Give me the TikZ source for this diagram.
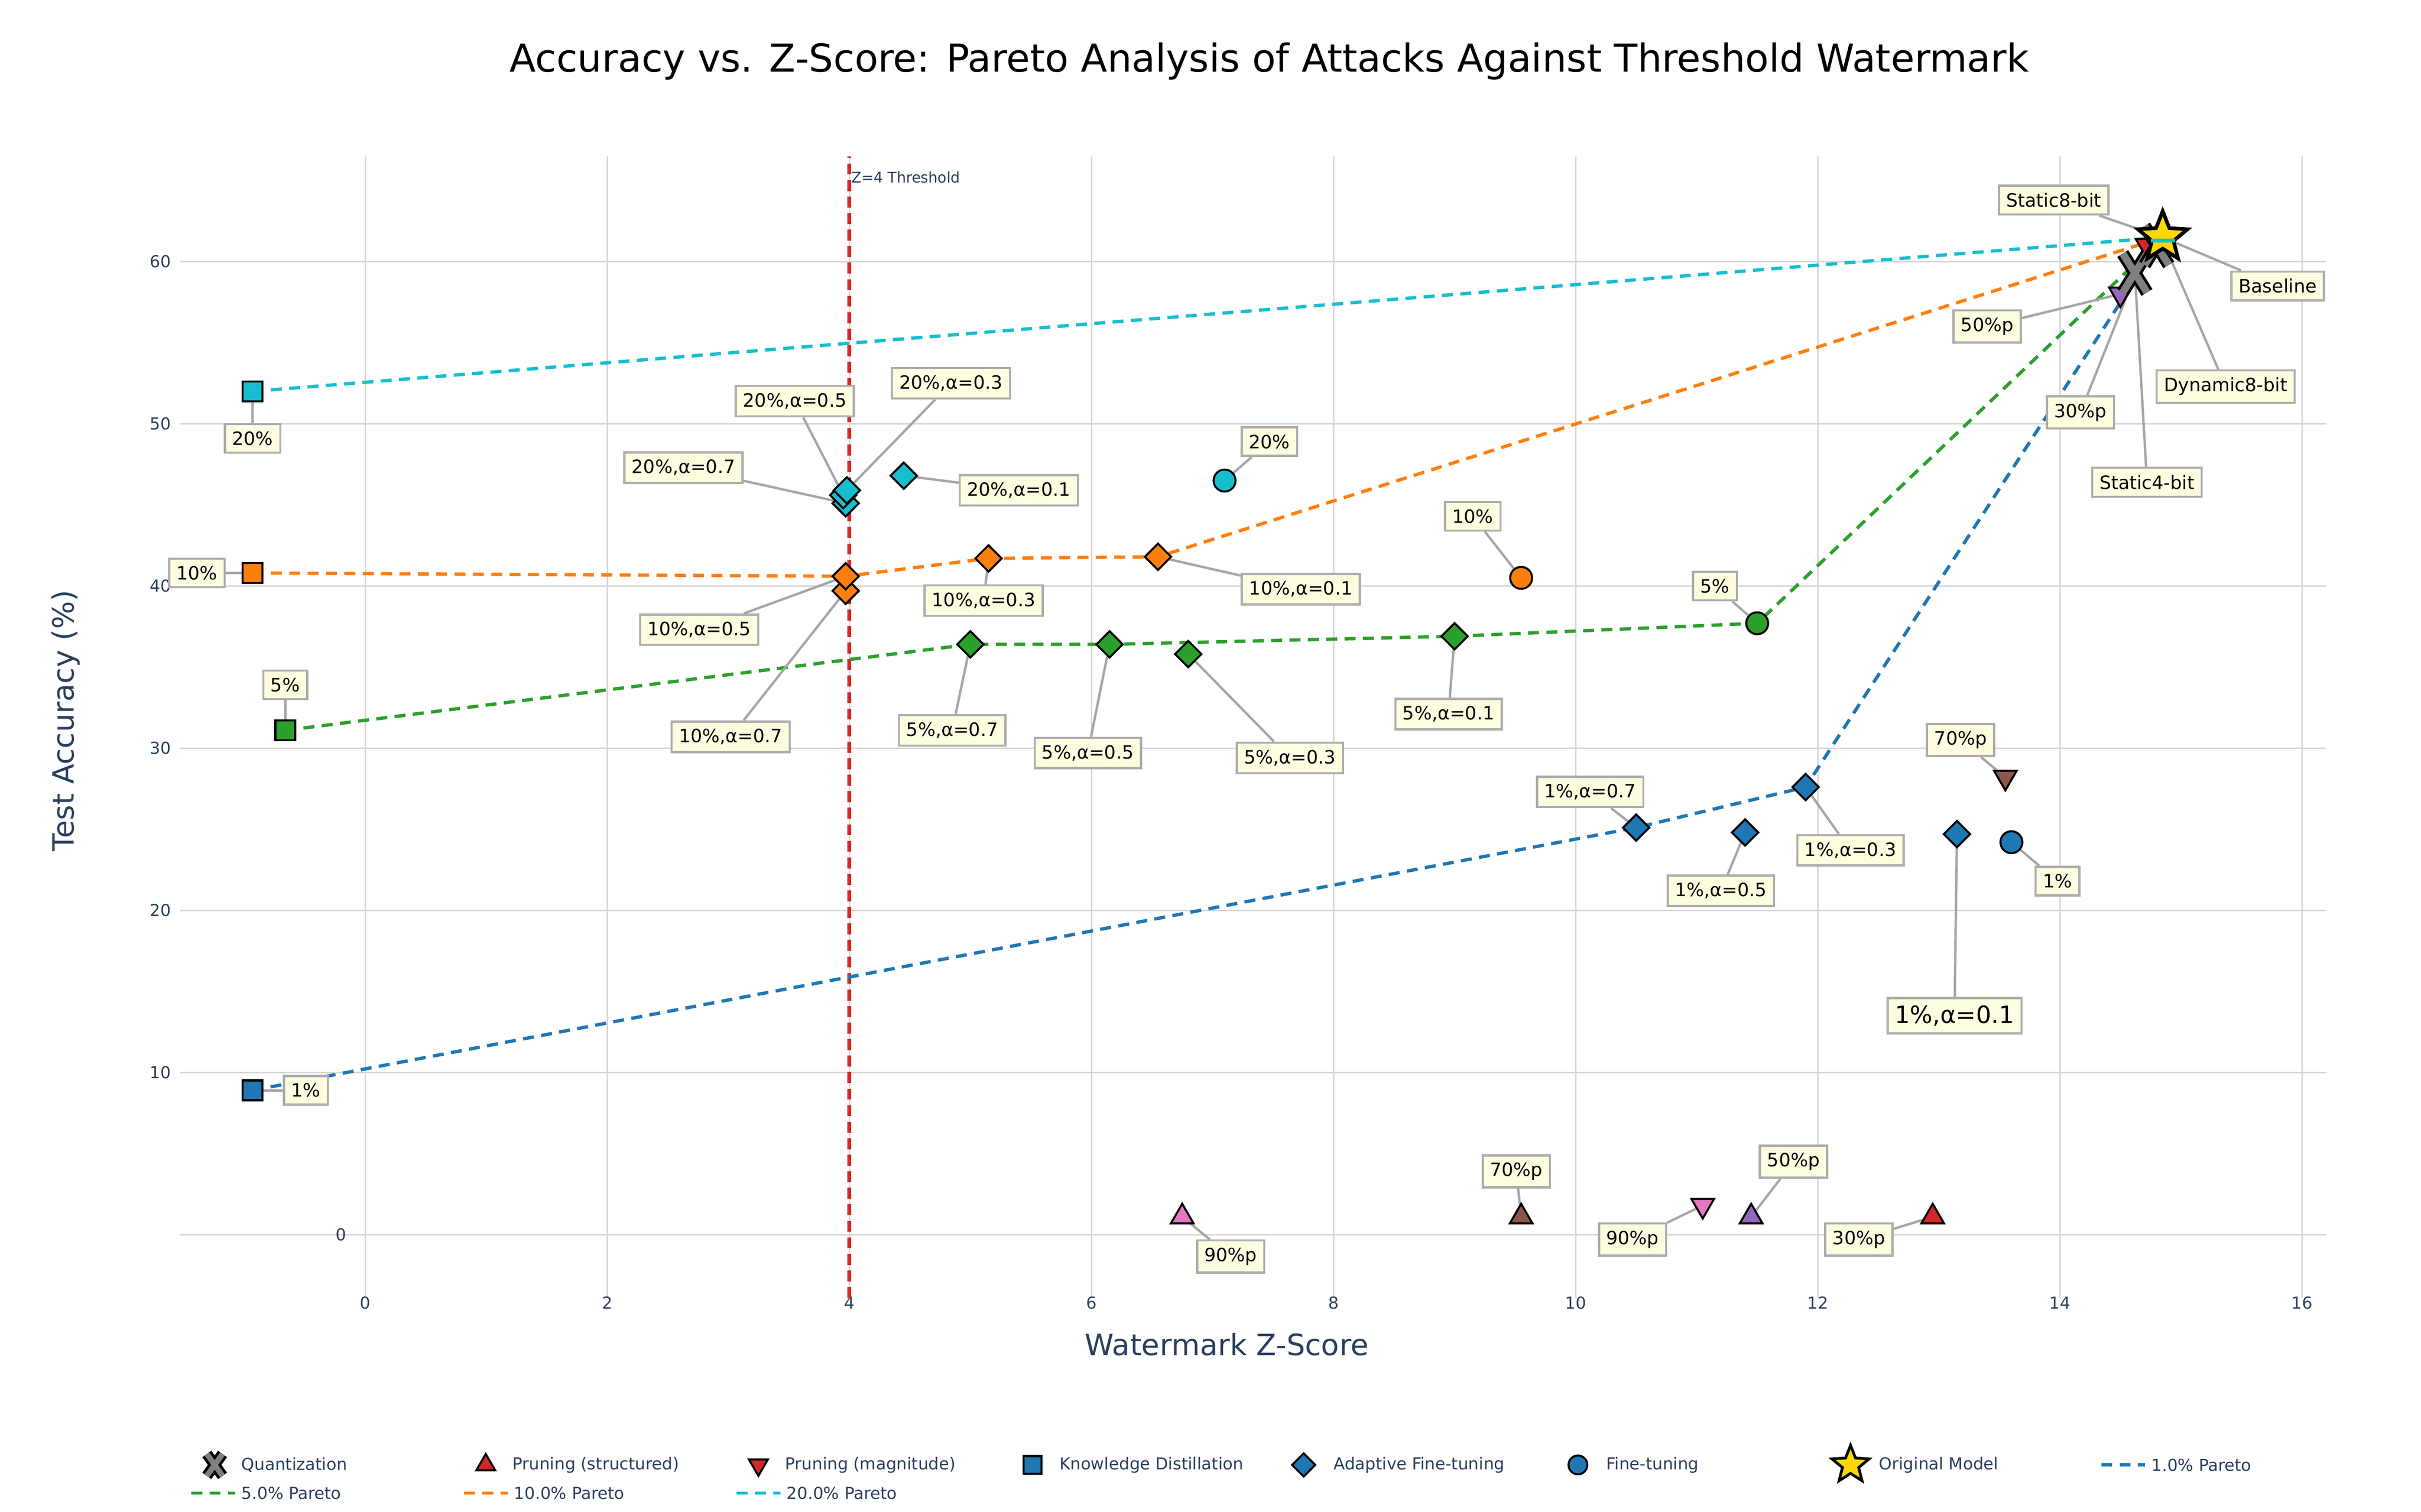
\documentclass[tikz,border=0pt]{standalone}
\usepackage{fontspec}
\setmainfont{DejaVu Sans}
\usetikzlibrary{positioning}
\usetikzlibrary{shapes.geometric}
\usetikzlibrary{arrows.meta}
\definecolor{cone}{HTML}{1F77B4}
\definecolor{cfive}{HTML}{2CA02C}
\definecolor{cten}{HTML}{FF7F0E}
\definecolor{ctwenty}{HTML}{17BECF}
\definecolor{cred}{HTML}{D62728}
\definecolor{cpurple}{HTML}{9467BD}
\definecolor{cbrown}{HTML}{8C564B}
\definecolor{cpink}{HTML}{E377C2}
\definecolor{cgrey}{HTML}{7F7F7F}
\definecolor{cgold}{HTML}{FFD700}
\definecolor{axtext}{HTML}{2A3F5F}
\definecolor{lblbg}{HTML}{FFFDE0}
\tikzset{
  mk/.style={draw=black, line width=1.1pt, inner sep=0pt},
  dia/.style={mk, diamond, minimum size=0.52cm},
  sq/.style={mk, rectangle, minimum size=0.38cm},
  dot/.style={mk, circle, minimum size=0.42cm},
  triup/.style={mk, regular polygon, regular polygon sides=3, minimum size=0.5cm},
  tridown/.style={triup, shape border rotate=180},
  bigstar/.style={draw=black, line width=2pt, star, star points=5, star point ratio=2.3, minimum size=1.0cm, inner sep=0pt, fill=cgold},
  lbl/.style={draw=black!32, line width=1.2pt, fill=lblbg, font=\fontsize{10}{12}\selectfont, inner sep=4pt},
  lead/.style={draw=black!35, line width=1.3pt},
  pareto/.style={dashed, dash pattern=on 6pt off 4pt, line width=1.8pt},
  gridline/.style={draw=black!16, line width=0.8pt},
  tick/.style={font=\fontsize{9}{11}\selectfont, text=axtext},
  legtext/.style={font=\fontsize{9}{11}\selectfont, text=axtext, anchor=west}
}
\begin{document}
\begin{tikzpicture}
\useasboundingbox[fill=white] (0,0) rectangle (46.35,28.95);
% title and axis titles
\begin{scope}[shift={(0,28.95)}, x=0.03cm, y=-0.03cm]
  \node[font=\fontsize{21}{25}\selectfont] (title) at (810,39) {Accuracy vs. Z-Score: Pareto Analysis of Attacks Against Threshold Watermark};
  \node[font=\fontsize{16}{19}\selectfont, text=axtext] (xtitle) at (783,858) {Watermark Z-Score};
  \node[font=\fontsize{16}{19}\selectfont, text=axtext, rotate=90] (ytitle) at (42,460) {Test Accuracy (\%)};
\end{scope}
% data area
\begin{scope}[shift={(6.99,5.31)}, x=2.3175cm, y=0.3105cm]
  \foreach \gx in {0,2,...,16} {
    \draw[gridline] (\gx,-3.9) -- (\gx,66.5);
    \node[tick] (xt\gx) at (\gx,-4.2) {\gx};
  }
  \foreach \gy in {10,20,...,60} {
    \draw[gridline] (-1.53,\gy) -- (16.2,\gy);
    \node[tick, anchor=east] (yt\gy) at (-1.55,\gy) {\gy};
  }
  \draw[gridline] (-1.53,0) -- (16.2,0);
  \node[tick] (yt0) at (-0.2,0) {0};
  % threshold
  \draw[cred, dashed, dash pattern=on 6pt off 3pt, line width=2pt] (4,-3.9) -- (4,66.5);
  \node[anchor=west, font=\fontsize{8}{10}\selectfont, text=axtext, inner sep=1pt] (thr) at (4,65.2) {Z=4 Threshold};
  % points
  \coordinate (star) at (14.85,61.5);
  \coordinate (kd1) at (-0.93,8.9);
  \coordinate (kd5) at (-0.66,31.1);
  \coordinate (kd10) at (-0.93,40.8);
  \coordinate (kd20) at (-0.93,52.0);
  \coordinate (ft1) at (13.6,24.2);
  \coordinate (ft5) at (11.5,37.7);
  \coordinate (ft10) at (9.55,40.5);
  \coordinate (ft20) at (7.1,46.5);
  \coordinate (af1a) at (10.5,25.1);
  \coordinate (af1b) at (11.4,24.8);
  \coordinate (af1c) at (11.9,27.6);
  \coordinate (af1d) at (13.15,24.7);
  \coordinate (af5a) at (5.0,36.4);
  \coordinate (af5b) at (6.15,36.4);
  \coordinate (af5c) at (6.8,35.8);
  \coordinate (af5d) at (9.0,36.9);
  \coordinate (af10a) at (3.97,39.7);
  \coordinate (af10b) at (3.97,40.6);
  \coordinate (af10c) at (5.15,41.7);
  \coordinate (af10d) at (6.55,41.8);
  \coordinate (af20a) at (3.97,45.1);
  \coordinate (af20b) at (3.95,45.6);
  \coordinate (af20c) at (3.98,45.9);
  \coordinate (af20d) at (4.45,46.8);
  \coordinate (quA) at (14.62,59.3);
  \coordinate (quB) at (14.8,61.0);
  \coordinate (quC) at (14.85,61.3);
  \coordinate (pmA) at (14.5,58.0);
  \coordinate (pmB) at (14.72,61.0);
  \coordinate (pm70) at (13.55,28.2);
  \coordinate (pm90) at (11.05,1.8);
  \coordinate (ps90) at (6.75,1.1);
  \coordinate (ps70) at (9.55,1.1);
  \coordinate (ps50) at (11.45,1.1);
  \coordinate (ps30) at (12.95,1.1);
  % pareto fronts
  \draw[pareto, ctwenty] (kd20) -- (star);
  \draw[pareto, cten] (kd10) -- (af10b) -- (af10c) -- (af10d) -- (star);
  \draw[pareto, cfive] (kd5) -- (af5a) -- (af5b) -- (af5d) -- (ft5) -- (star);
  \draw[pareto, cone] (kd1) -- (af1a) -- (af1c) -- (star);
  % labels
  \node[lbl] (lS8) at (13.95,63.8) {Static8-bit};
  \node[lbl] (lBase) at (15.8,58.5) {Baseline};
  \node[lbl] (lP50) at (13.4,56.0) {50\%p};
  \node[lbl] (lD8) at (15.37,52.3) {Dynamic8-bit};
  \node[lbl] (lP30) at (14.17,50.7) {30\%p};
  \node[lbl] (lS4) at (14.72,46.4) {Static4-bit};
  \node[lbl] (lkd20) at (-0.93,49.1) {20\%};
  \node[lbl] (lkd10) at (-1.39,40.8) {10\%};
  \node[lbl] (lkd5) at (-0.66,33.9) {5\%};
  \node[lbl] (lkd1) at (-0.49,8.9) {1\%};
  \node[lbl] (lft20) at (7.47,48.9) {20\%};
  \node[lbl] (lft10) at (9.15,44.3) {10\%};
  \node[lbl] (lft5) at (11.15,40.0) {5\%};
  \node[lbl] (lft1) at (13.98,21.8) {1\%};
  \node[lbl] (laf20a) at (2.63,47.3) {20\%,α=0.7};
  \node[lbl] (laf20b) at (3.55,51.4) {20\%,α=0.5};
  \node[lbl] (laf20c) at (4.84,52.5) {20\%,α=0.3};
  \node[lbl] (laf20d) at (5.4,45.9) {20\%,α=0.1};
  \node[lbl] (laf10a) at (3.02,30.7) {10\%,α=0.7};
  \node[lbl] (laf10b) at (2.76,37.3) {10\%,α=0.5};
  \node[lbl] (laf10c) at (5.11,39.1) {10\%,α=0.3};
  \node[lbl] (laf10d) at (7.73,39.8) {10\%,α=0.1};
  \node[lbl] (laf5a) at (4.85,31.1) {5\%,α=0.7};
  \node[lbl] (laf5b) at (5.97,29.7) {5\%,α=0.5};
  \node[lbl] (laf5c) at (7.64,29.4) {5\%,α=0.3};
  \node[lbl] (laf5d) at (8.95,32.1) {5\%,α=0.1};
  \node[lbl] (laf1a) at (10.12,27.3) {1\%,α=0.7};
  \node[lbl] (laf1b) at (11.2,21.2) {1\%,α=0.5};
  \node[lbl] (laf1c) at (12.27,23.7) {1\%,α=0.3};
  \node[lbl, font=\fontsize{13}{15}\selectfont] (laf1d) at (13.13,13.5) {1\%,α=0.1};
  \node[lbl] (lpm70) at (13.18,30.5) {70\%p};
  \node[lbl] (lpm90) at (10.47,-0.3) {90\%p};
  \node[lbl] (lps90) at (7.15,-1.35) {90\%p};
  \node[lbl] (lps70) at (9.51,3.9) {70\%p};
  \node[lbl] (lps50) at (11.8,4.5) {50\%p};
  \node[lbl] (lps30) at (12.34,-0.3) {30\%p};
  % leader lines
  \foreach \a/\b in {lS8/star, lBase/star, lP50/pmA, lD8/quC, lP30/pmB, lS4/quA,
      lkd20/kd20, lkd10/kd10, lkd5/kd5, lkd1/kd1, lft20/ft20, lft10/ft10, lft5/ft5, lft1/ft1,
      laf20a/af20a, laf20b/af20b, laf20c/af20c, laf20d/af20d,
      laf10a/af10a, laf10b/af10b, laf10c/af10c, laf10d/af10d,
      laf5a/af5a, laf5b/af5b, laf5c/af5c, laf5d/af5d,
      laf1a/af1a, laf1b/af1b, laf1c/af1c, laf1d/af1d,
      lpm70/pm70, lpm90/pm90, lps90/ps90, lps70/ps70, lps50/ps50, lps30/ps30}
    \draw[lead] (\a) -- (\b);
  % markers
  \foreach \p/\c in {kd1/cone, kd5/cfive, kd10/cten, kd20/ctwenty}
    \node[sq, fill=\c] at (\p) {};
  \foreach \p/\c in {ft1/cone, ft5/cfive, ft10/cten, ft20/ctwenty}
    \node[dot, fill=\c] at (\p) {};
  \foreach \p/\c in {af1a/cone, af1b/cone, af1c/cone, af1d/cone,
      af5a/cfive, af5b/cfive, af5c/cfive, af5d/cfive,
      af10a/cten, af10b/cten, af10c/cten, af10d/cten,
      af20a/ctwenty, af20b/ctwenty, af20c/ctwenty, af20d/ctwenty}
    \node[dia, fill=\c] at (\p) {};
  \foreach \p/\c in {ps90/cpink, ps70/cbrown, ps50/cpurple, ps30/cred}
    \node[triup, fill=\c] at (\p) {};
  \foreach \p/\c in {pm90/cpink, pm70/cbrown, pmA/cpurple, pmB/cred}
    \node[tridown, fill=\c] at (\p) {};
  \foreach \p in {quA, quB} {
    \draw[black, line width=7pt] ([shift={(-0.1,-1.2)}]\p) -- ([shift={(0.1,1.2)}]\p) ([shift={(-0.1,1.2)}]\p) -- ([shift={(0.1,-1.2)}]\p);
    \draw[cgrey, line width=4pt] ([shift={(-0.1,-1.2)}]\p) -- ([shift={(0.1,1.2)}]\p) ([shift={(-0.1,1.2)}]\p) -- ([shift={(0.1,-1.2)}]\p);
  }
  \node[bigstar] (orig) at (star) {};
  \draw[ctwenty, line width=2pt] (14.75,61.3) -- (14.95,61.3);
\end{scope}
% legend
\begin{scope}[shift={(0,28.95)}, x=0.03cm, y=-0.03cm]
  \draw[black, line width=6pt] (132,928) -- (142,942) (132,942) -- (142,928);
  \draw[cgrey, line width=3pt] (132,928) -- (142,942) (132,942) -- (142,928);
  \node[legtext] (lgQ) at (150,935) {Quantization};
  \node[triup, fill=cred, minimum size=0.42cm] (mkPS) at (310,935) {};
  \node[legtext] (lgPS) at (323,935) {Pruning (structured)};
  \node[tridown, fill=cred, minimum size=0.42cm] (mkPM) at (484,935) {};
  \node[legtext] (lgPM) at (497,935) {Pruning (magnitude)};
  \node[sq, fill=cone, minimum size=0.34cm] (mkKD) at (659,935) {};
  \node[legtext] (lgKD) at (672,935) {Knowledge Distillation};
  \node[dia, fill=cone, minimum size=0.46cm] (mkAF) at (832,935) {};
  \node[legtext] (lgAF) at (847,935) {Adaptive Fine-tuning};
  \node[dot, fill=cone, minimum size=0.36cm] (mkFT) at (1007,935) {};
  \node[legtext] (lgFT) at (1021,935) {Fine-tuning};
  \node[bigstar, minimum size=0.75cm, line width=1.5pt] (mkOM) at (1181,935) {};
  \node[legtext] (lgOM) at (1195,935) {Original Model};
  \draw[pareto, cone] (1341,935) -- (1369,935);
  \node[legtext] (lgP1) at (1369,935) {1.0\% Pareto};
  \draw[pareto, cfive] (122,953) -- (150,953);
  \node[legtext] (lgP5) at (150,953) {5.0\% Pareto};
  \draw[pareto, cten] (296,953) -- (324,953);
  \node[legtext] (lgP10) at (324,953) {10.0\% Pareto};
  \draw[pareto, ctwenty] (470,953) -- (498,953);
  \node[legtext] (lgP20) at (498,953) {20.0\% Pareto};
\end{scope}
\end{tikzpicture}
\end{document}
